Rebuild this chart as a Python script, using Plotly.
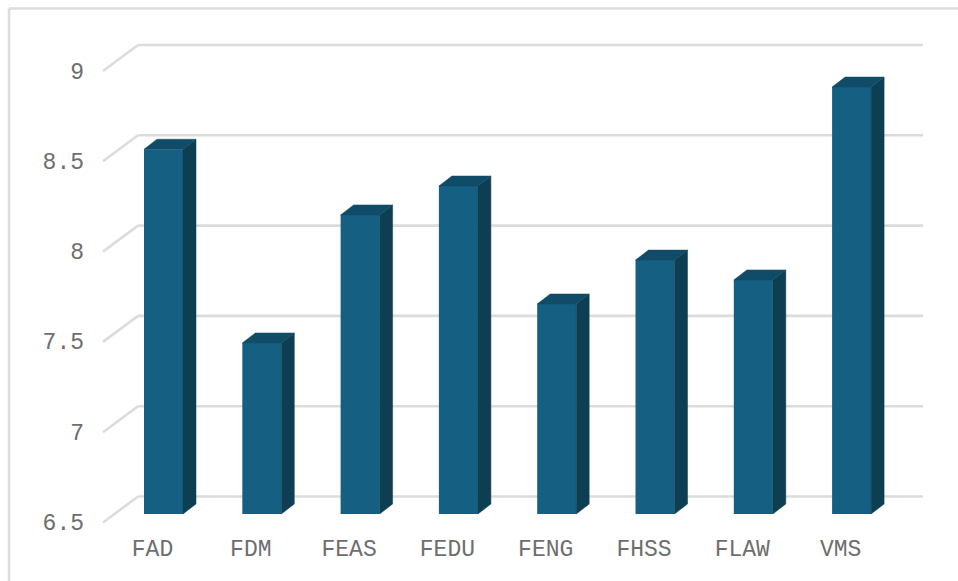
import plotly.graph_objects as go

categories = ["FAD", "FDM", "FEAS", "FEDU", "FENG", "FHSS", "FLAW", "VMS"]
values = [8.52, 7.447, 8.156, 8.316, 7.663, 7.906, 7.796, 8.864]
y_ticks = [6.5, 7, 7.5, 8, 8.5, 9]
y_labels = ["6.5", "7", "7.5", "8", "8.5", "9"]

W, H = 958, 581
L, R, T, B = 88, 28, 20, 51
PX_X = 98.3      # pixels per category step
PX_Y = 180.6     # pixels per value unit
X0 = 163.5       # pixel of first category centre
Y0 = 514         # pixel of axis floor on the bar plane
BASE = 6.5
BAR_W = 39 / PX_X
DX, DY = 13 / PX_X, 10 / PX_Y   # bar depth
FRONT, SIDE, TOP = "#156082", "#0E3E52", "#104C67"
GRID = "#DCDCDC"
FONT = "Liberation Mono, Courier New, monospace"
TXT = "#6E6E6E"

def xpx(p):
    return (p - X0) / PX_X

def ypx(p):
    return (Y0 - p) / PX_Y + BASE

fig = go.Figure()

xs = list(range(len(categories)))
fig.add_trace(go.Bar(x=xs, y=[v - BASE for v in values], base=BASE, width=BAR_W,
                     marker=dict(color=FRONT, line=dict(width=0)), showlegend=False, hoverinfo="skip"))

for x, v in zip(xs, values):
    l, r = x - BAR_W / 2, x + BAR_W / 2
    fig.add_trace(go.Scatter(x=[r, r + DX, r + DX, r, r], y=[BASE, BASE + DY, v + DY, v, BASE],
                             mode="lines", fill="toself", fillcolor=SIDE, line=dict(width=0.5, color=SIDE),
                             showlegend=False, hoverinfo="skip"))
    fig.add_trace(go.Scatter(x=[l, l + DX, r + DX, r, l], y=[v, v + DY, v + DY, v, v],
                             mode="lines", fill="toself", fillcolor=TOP, line=dict(width=0.5, color=TOP),
                             showlegend=False, hoverinfo="skip"))

# back wall gridlines with the diagonal on the floor side
back_up = 17.5 / PX_Y
front_dn = 8.5 / PX_Y
shapes = []
for t in y_ticks:
    g = dict(type="line", xref="x", yref="y", layer="below", line=dict(color=GRID, width=2.6))
    shapes.append(dict(g, x0=xpx(103), y0=t - front_dn, x1=xpx(138), y1=t + back_up))
    shapes.append(dict(g, x0=xpx(138), y0=t + back_up, x1=xpx(923), y1=t + back_up))

# outer chart frame (top and left edges)
fx = lambda p: (p - L) / (W - L - R)
fy = lambda p: 1 - (p - T) / (H - T - B)
frame = dict(type="line", xref="paper", yref="paper", layer="below", line=dict(color="#DDDDDD", width=2.6))
shapes.append(dict(frame, x0=fx(9), y0=fy(8.5), x1=fx(958), y1=fy(8.5)))
shapes.append(dict(frame, x0=fx(9), y0=fy(8.5), x1=fx(9), y1=fy(581)))

fig.update_layout(
    width=W, height=H,
    margin=dict(l=L, r=R, t=T, b=B, pad=0),
    paper_bgcolor="white", plot_bgcolor="white",
    shapes=shapes, showlegend=False,
    xaxis=dict(range=[xpx(L), xpx(W - R)], tickmode="array", tickvals=xs, ticktext=categories,
               showgrid=False, zeroline=False, showline=False, ticks="",
               tickfont=dict(family=FONT, size=23, color=TXT), ticklabelshift=-11,
               ticklabelstandoff=2, fixedrange=True),
    yaxis=dict(range=[ypx(H - B), ypx(T)], tickmode="array", tickvals=y_ticks, ticktext=y_labels,
               showgrid=False, zeroline=False, showline=False, ticks="",
               tickfont=dict(family=FONT, size=23, color=TXT), ticklabelshift=8,
               ticklabelstandoff=3, fixedrange=True),
)

fig.write_html("out.html", config=dict(displayModeBar=False),
               post_script="document.body.style.margin='0';document.body.style.overflow='hidden';")
